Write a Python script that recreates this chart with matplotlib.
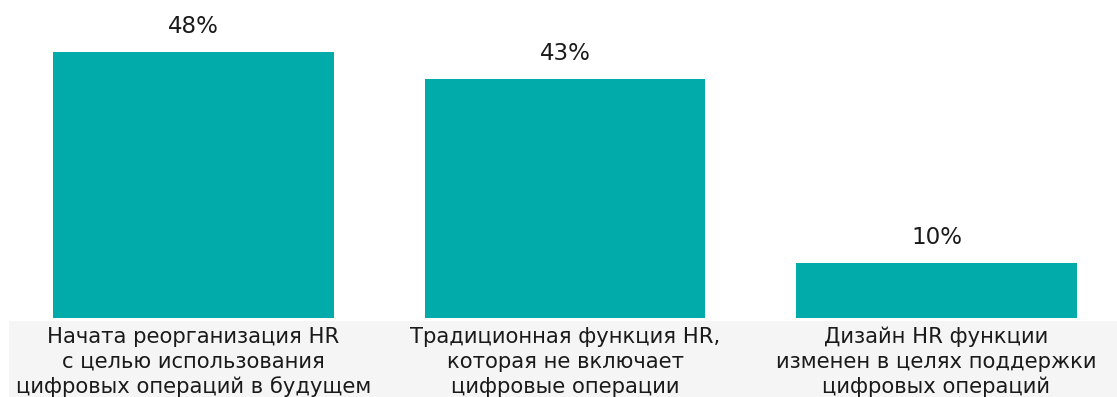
import matplotlib
matplotlib.use('Agg')
import matplotlib.pyplot as plt
import matplotlib.transforms as mtransforms
from matplotlib.patches import Rectangle

# data
categories = [
    'Начата реорганизация HR\nс целью использования\nцифровых операций в будущем',
    'Традиционная функция HR,\nкоторая не включает\nцифровые операции',
    'Дизайн HR функции\nизменен в целях поддержки\nцифровых операций',
]
values = [48, 43, 10]
value_labels = ['48%', '43%', '10%']

bar_color = '#00ABAA'
box_color = '#F5F5F5'
text_color = '#1A1A1A'

plt.rcParams['font.family'] = ['DejaVu Sans']

W, H = 1117, 397
fig = plt.figure(figsize=(W / 100, H / 100), dpi=100)
ax = fig.add_axes([0, 79 / H, 1, 318 / H])

x = list(range(len(values)))
bars = ax.bar(x, values, width=0.754, color=bar_color)
ax.set_xlim(-0.521, 2.486)
ax.set_ylim(0, 57.3)
ax.axis('off')

for xi, v, lab in zip(x, values, value_labels):
    ax.annotate(lab, (xi, v), xytext=(0, 10), textcoords='offset points',
                ha='center', va='bottom', fontsize=16.6, color=text_color)

# gray label boxes below the bars
trans = mtransforms.blended_transform_factory(ax.transData, fig.transFigure)
box_top = (H - 321) / H
for xi, cat in zip(x, categories):
    left = xi - 0.497 if xi == 0 else xi - 0.5
    rect = Rectangle((left, 0), xi + 0.5 - left, box_top, transform=trans,
                     facecolor=box_color, edgecolor='none', clip_on=False,
                     zorder=1)
    ax.add_patch(rect)
    ax.text(xi, (H - 362) / H, cat, transform=trans, ha='center', va='center',
            fontsize=15.2, color=text_color, linespacing=1.3, clip_on=False,
            zorder=3)

plt.savefig('out.png', dpi=100)
